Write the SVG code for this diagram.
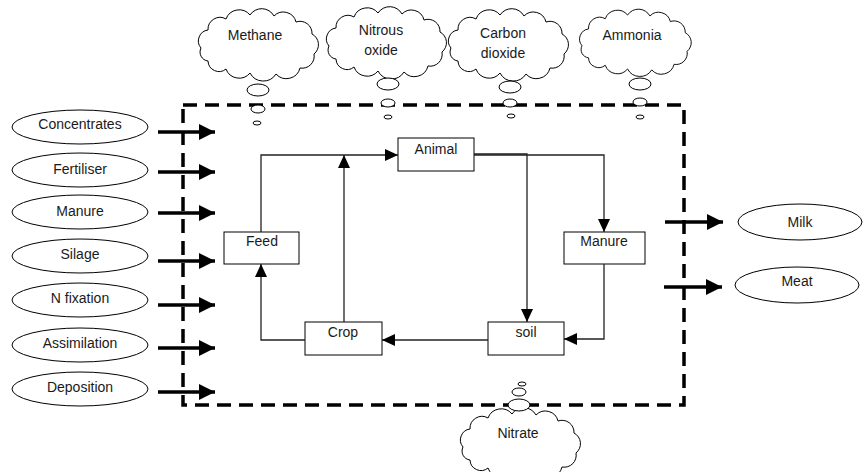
<svg xmlns="http://www.w3.org/2000/svg" xmlns:xlink="http://www.w3.org/1999/xlink" width="866" height="472" viewBox="0 0 866 472">
<style>
text{font-family:"Liberation Sans",Arial,sans-serif;font-size:14px;fill:#1a1a1a;text-anchor:middle}
.ell,.box,.cloud,.bub{fill:#fff;stroke:#000;stroke-width:1}
.thin{fill:none;stroke:#222;stroke-width:1.3;marker-end:url(#ah)}
.thick{fill:none;stroke:#000;stroke-width:3.5;marker-end:url(#ahT)}
.border{fill:none;stroke:#000;stroke-width:3.5;stroke-dasharray:14 8}
</style>
<defs>
<marker id="ah" markerUnits="userSpaceOnUse" markerWidth="14" markerHeight="12" refX="13" refY="6" orient="auto"><path d="M0,0 L13,6 L0,12 Z" fill="#000"/></marker>
<marker id="ahT" markerUnits="userSpaceOnUse" markerWidth="16" markerHeight="16" refX="16" refY="8" orient="auto"><path d="M0,0 L16,8 L0,16 Z" fill="#000"/></marker>
<path id="cloud" d="M-57,4 A11,11 0 0 1 -50,-14 A12,12 0 0 1 -32,-25 A14,14 0 0 1 -8,-29 A14,14 0 0 1 16,-28 A13,13 0 0 1 38,-22 A12,12 0 0 1 54,-10 A12,12 0 0 1 56,10 A12,12 0 0 1 42,24 A14,14 0 0 1 18,30 A15,15 0 0 1 -8,29 A14,14 0 0 1 -32,25 A11,11 0 0 1 -50,17 A9,9 0 0 1 -57,4 Z"/>
</defs>

<rect class="border" x="183" y="105" width="501" height="300"/>

<g id="concentrates"><ellipse class="ell" cx="80" cy="127" rx="68" ry="17"/><text x="80" y="129">Concentrates</text></g>
<g id="fertiliser"><ellipse class="ell" cx="80" cy="170" rx="68" ry="17"/><text x="80" y="174">Fertiliser</text></g>
<g id="manure-in"><ellipse class="ell" cx="80" cy="212" rx="68" ry="17"/><text x="80" y="216">Manure</text></g>
<g id="silage"><ellipse class="ell" cx="80" cy="256" rx="68" ry="17"/><text x="80" y="259">Silage</text></g>
<g id="nfixation"><ellipse class="ell" cx="80" cy="300" rx="68" ry="17"/><text x="80" y="303">N fixation</text></g>
<g id="assimilation"><ellipse class="ell" cx="80" cy="345" rx="68" ry="17"/><text x="80" y="348">Assimilation</text></g>
<g id="deposition"><ellipse class="ell" cx="80" cy="389" rx="68" ry="17"/><text x="80" y="392">Deposition</text></g>

<g id="milk"><ellipse class="ell" cx="800" cy="222" rx="62" ry="18"/><text x="800" y="227">Milk</text></g>
<g id="meat"><ellipse class="ell" cx="797" cy="285" rx="62" ry="18"/><text x="797" y="286">Meat</text></g>

<g id="methane"><use xlink:href="#cloud" class="cloud" transform="translate(258,44)"/><text x="255" y="40">Methane</text>
<ellipse class="bub" cx="258" cy="90" rx="11" ry="6"/><ellipse class="bub" cx="258" cy="109" rx="7" ry="4"/><ellipse class="bub" cx="257" cy="123" rx="4" ry="2"/></g>
<g id="nitrous"><use xlink:href="#cloud" class="cloud" transform="translate(386,42)"/><text x="381" y="35">Nitrous</text><text x="381" y="55">oxide</text>
<ellipse class="bub" cx="388" cy="84" rx="11" ry="6"/><ellipse class="bub" cx="388" cy="103" rx="7" ry="4"/><ellipse class="bub" cx="388" cy="117" rx="4" ry="2"/></g>
<g id="carbon"><use xlink:href="#cloud" class="cloud" transform="translate(508,44)"/><text x="503" y="38">Carbon</text><text x="503" y="58">dioxide</text>
<ellipse class="bub" cx="510" cy="87" rx="11" ry="6"/><ellipse class="bub" cx="510" cy="103" rx="7" ry="4"/><ellipse class="bub" cx="511" cy="116" rx="4" ry="2"/></g>
<g id="ammonia"><use xlink:href="#cloud" class="cloud" transform="translate(635,42) scale(0.93)" style="vector-effect:non-scaling-stroke"/><text x="632" y="40">Ammonia</text>
<ellipse class="bub" cx="640" cy="84" rx="11" ry="6"/><ellipse class="bub" cx="640" cy="102" rx="7" ry="4"/><ellipse class="bub" cx="640" cy="117" rx="4" ry="2"/></g>
<g id="nitrate"><use xlink:href="#cloud" class="cloud" transform="translate(520,443)"/><text x="518" y="438">Nitrate</text>
<ellipse class="bub" cx="519" cy="405" rx="11" ry="6"/><ellipse class="bub" cx="519" cy="392" rx="7" ry="4"/><ellipse class="bub" cx="522" cy="384" rx="4" ry="2"/></g>

<g id="animal"><rect class="box" x="398" y="138" width="76" height="33"/><text x="436" y="154">Animal</text></g>
<g id="feed"><rect class="box" x="224" y="232" width="75" height="32"/><text x="262" y="246">Feed</text></g>
<g id="manure"><rect class="box" x="564" y="232" width="81" height="32"/><text x="604" y="246">Manure</text></g>
<g id="soil"><rect class="box" x="488" y="322" width="76" height="33"/><text x="526" y="337">soil</text></g>
<g id="crop"><rect class="box" x="305" y="322" width="77" height="33"/><text x="343" y="337">Crop</text></g>

<g id="connectors">
<polyline class="thin" points="261,232 261,155 398,155"/>
<polyline class="thin" points="344,322 344,155"/>
<polyline class="thin" points="474,155 604,155 604,232"/>
<polyline class="thin" points="474,154 527,154 527,322"/>
<polyline class="thin" points="604,264 604,339 564,339"/>
<polyline class="thin" points="488,340 382,340"/>
<polyline class="thin" points="305,340 261,340 261,264"/>
<line class="thick" x1="158" y1="132" x2="215" y2="132"/>
<line class="thick" x1="158" y1="172" x2="215" y2="172"/>
<line class="thick" x1="158" y1="213" x2="215" y2="213"/>
<line class="thick" x1="158" y1="261" x2="215" y2="261"/>
<line class="thick" x1="158" y1="305" x2="215" y2="305"/>
<line class="thick" x1="158" y1="348" x2="215" y2="348"/>
<line class="thick" x1="158" y1="392" x2="215" y2="392"/>
<line class="thick" x1="665" y1="222" x2="723" y2="222"/>
<line class="thick" x1="664" y1="287" x2="722" y2="287"/>
</g>
</svg>
